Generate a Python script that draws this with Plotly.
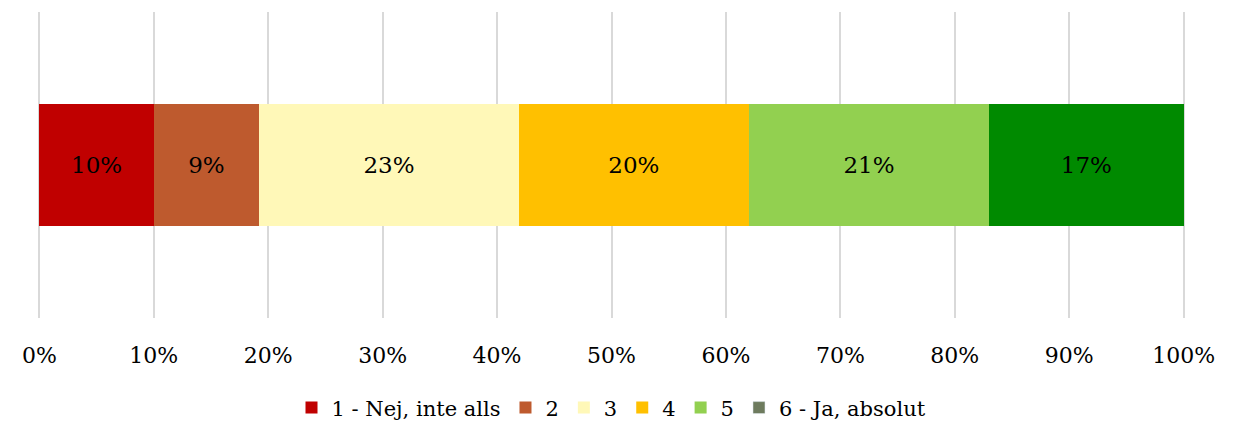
import plotly.graph_objects as go

categories = [""]
series_names = ["1 - Nej, inte alls", "2", "3", "4", "5", "6 - Ja, absolut"]
series_values = [10.0, 9.2, 22.7, 20.1, 21.0, 17.0]
series_labels = ["10%", "9%", "23%", "20%", "21%", "17%"]
bar_colors = ["#C00000", "#BE5A2E", "#FFF8B8", "#FFC000", "#92D050", "#008A00"]
legend_colors = ["#C00000", "#BE5A2E", "#FFF8B8", "#FFC000", "#92D050", "#6E7B5E"]
tick_vals = [0, 10, 20, 30, 40, 50, 60, 70, 80, 90, 100]
tick_text = ["0%", "10%", "20%", "30%", "40%", "50%", "60%", "70%", "80%", "90%", "100%"]

FONT = "DejaVu Serif"

fig = go.Figure()
for i, name in enumerate(series_names):
    same = bar_colors[i] == legend_colors[i]
    fig.add_trace(go.Bar(
        y=categories, x=[series_values[i]], orientation="h",
        name=name, marker=dict(color=bar_colors[i], line=dict(width=0)),
        text=[series_labels[i]], textposition="inside", insidetextanchor="middle",
        textfont=dict(family=FONT, size=23, color="#000000"),
        showlegend=same, legendrank=i + 1, width=0.4,
        hoverinfo="skip",
    ))
    if not same:
        fig.add_trace(go.Bar(
            y=[None], x=[None], orientation="h", name=name,
            marker=dict(color=legend_colors[i]), showlegend=True, legendrank=i + 1,
        ))

fig.update_layout(
    barmode="stack",
    width=1250, height=426,
    margin=dict(l=30, r=73, t=4, b=116, autoexpand=False),
    plot_bgcolor="white", paper_bgcolor="white",
    font=dict(family=FONT, size=21, color="#000000"),
    xaxis=dict(range=[-0.12, 100.12], tickvals=tick_vals, ticktext=tick_text,
               showgrid=True, gridcolor="#D9D9D9", gridwidth=2,
               zeroline=False, showline=False, ticks="", automargin=False,
               ticklabelstandoff=22,
               tickfont=dict(family=FONT, size=22, color="#000000")),
    yaxis=dict(showticklabels=False, showgrid=False, zeroline=False,
               range=[-0.5, 0.5], automargin=False),
    legend=dict(orientation="h", x=0.5, xanchor="center", y=-0.294, yanchor="middle",
                font=dict(family=FONT, size=21, color="#000000"),
                itemwidth=30, traceorder="normal"),
    uniformtext=dict(minsize=10, mode="show"),
)
fig.write_html("out.html")
